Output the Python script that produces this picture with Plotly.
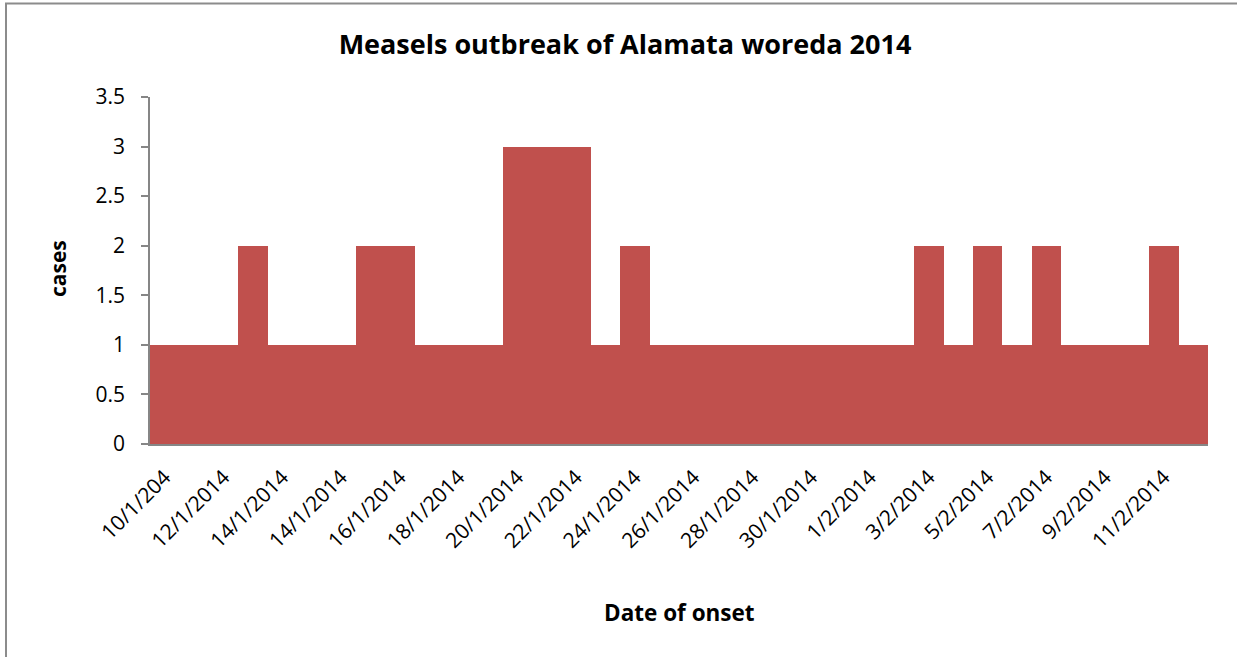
import plotly.graph_objects as go

# Date of onset for each category (as entered), and number of cases on that day
onset_dates = [
    "10/1/204", "11/1/2014", "12/1/2014", "13/1/2014", "14/1/2014", "14/1/2014",
    "14/1/2014", "15/1/2014", "16/1/2014", "17/1/2014", "18/1/2014", "19/1/2014",
    "20/1/2014", "21/1/2014", "22/1/2014", "23/1/2014", "24/1/2014", "25/1/2014",
    "26/1/2014", "27/1/2014", "28/1/2014", "29/1/2014", "30/1/2014", "31/1/2014",
    "1/2/2014", "2/2/2014", "3/2/2014", "4/2/2014", "5/2/2014", "6/2/2014",
    "7/2/2014", "8/2/2014", "9/2/2014", "10/2/2014", "11/2/2014", "12/2/2014",
]
cases = [
    1, 1, 1, 2, 1, 1,
    1, 2, 2, 1, 1, 1,
    3, 3, 3, 1, 2, 1,
    1, 1, 1, 1, 1, 1,
    1, 1, 2, 1, 2, 1,
    2, 1, 1, 1, 2, 1,
]

positions = list(range(len(onset_dates)))
# every second category gets a label on the axis
tick_positions = positions[::2]
tick_labels = onset_dates[::2]

FONT = "Open Sans, Calibri, sans-serif"
AXIS_GREY = "#868686"

fig = go.Figure(
    go.Bar(
        x=positions,
        y=cases,
        width=1,
        marker=dict(color="#C0504D", line=dict(width=0)),
    )
)

fig.update_layout(
    width=1237,
    height=657,
    margin=dict(l=150, r=29, t=97, b=213),
    paper_bgcolor="white",
    plot_bgcolor="white",
    bargap=0,
    showlegend=False,
    font=dict(family=FONT, color="black"),
    title=dict(
        text="<b>Measels outbreak of Alamata woreda 2014</b>",
        x=625 / 1237,
        xref="container",
        y=1 - 45 / 657,
        yref="container",
        xanchor="center",
        yanchor="middle",
        font=dict(size=27, family=FONT, color="black"),
    ),
)

fig.update_xaxes(
    range=[-0.5, len(positions) - 0.5],
    tickmode="array",
    tickvals=tick_positions,
    ticktext=tick_labels,
    tickangle=-45,
    tickfont=dict(size=21, family=FONT),
    ticklabelstandoff=11,
    ticks="",
    showline=True,
    linecolor=AXIS_GREY,
    linewidth=1.5,
    showgrid=False,
    zeroline=False,
)

fig.update_yaxes(
    range=[0, 3.5],
    tick0=0,
    dtick=0.5,
    ticks="outside",
    ticklen=7,
    tickcolor=AXIS_GREY,
    tickwidth=1.5,
    tickfont=dict(size=21, family=FONT),
    ticklabelstandoff=12,
    showline=True,
    linecolor=AXIS_GREY,
    linewidth=1.5,
    showgrid=False,
    zeroline=False,
)

# axis titles
fig.add_annotation(
    text="<b>Date of onset</b>",
    xref="paper", yref="paper",
    x=0.5, y=(444 - 612) / 347,
    xanchor="center", yanchor="middle",
    showarrow=False,
    font=dict(size=22.5, family=FONT, color="black"),
)
fig.add_annotation(
    text="<b>cases</b>",
    xref="paper", yref="paper",
    x=(58 - 150) / 1058, y=(444 - 269) / 347,
    xanchor="center", yanchor="middle",
    textangle=-90,
    showarrow=False,
    font=dict(size=21, family=FONT, color="black"),
)

# chart-area border (its right and bottom edges fall outside the page)
fig.add_shape(
    type="rect",
    xref="paper",
    yref="paper",
    x0=(6 - 150) / 1058,
    x1=(1300 - 150) / 1058,
    y0=-1.0,
    y1=(444 - 3.5) / 347,
    line=dict(color="#8C8C8C", width=2),
    fillcolor="rgba(0,0,0,0)",
    layer="below",
)

fig.write_html("out.html")
